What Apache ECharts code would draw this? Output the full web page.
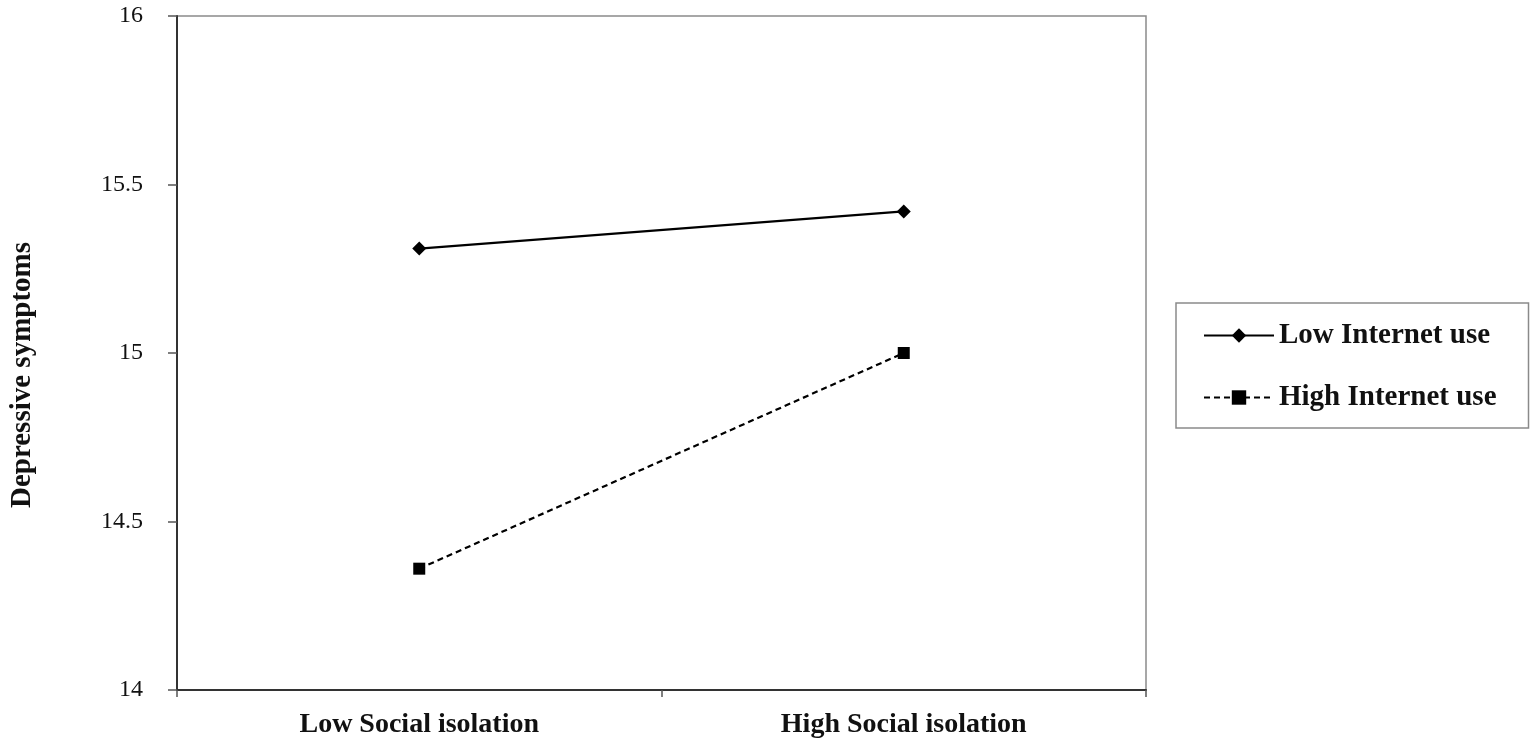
<!DOCTYPE html>
<html>
<head>
<meta charset="utf-8">
<script src="https://cdn.jsdelivr.net/npm/echarts@6/dist/echarts.min.js"></script>
<style>
html,body{margin:0;padding:0;background:#fff;}
#chart{width:1535px;height:749px;}
</style>
</head>
<body>
<div id="chart"></div>
<script>
const categories = ['Low Social isolation', 'High Social isolation'];
const lowInternetUse = [15.31, 15.42];
const highInternetUse = [14.36, 15.0];
const seriesNames = ['Low Internet use', 'High Internet use'];
const yName = 'Depressive symptoms';

const FONT = '"Liberation Serif", "Times New Roman", serif';
const chart = echarts.init(document.getElementById('chart'));
chart.setOption({
  backgroundColor: '#fff',
  animation: false,
  grid: {
    left: 177, right: 389, top: 16, bottom: 59,
    outerBoundsMode: 'none',
    containLabel: false,
    show: true, borderColor: '#8a8a8a', borderWidth: 1.5, backgroundColor: 'transparent'
  },
  legend: {
    orient: 'vertical',
    left: 1176, top: 303,
    padding: [18, 32, 16, 27],
    borderColor: '#8a8a8a', borderWidth: 1.5,
    itemWidth: 70, itemHeight: 18,
    itemGap: 33,
    textStyle: { fontFamily: FONT, fontWeight: 'bold', fontSize: 29, color: '#111' },
    data: seriesNames
  },
  xAxis: {
    type: 'category',
    data: categories,
    boundaryGap: true,
    axisLine: { lineStyle: { color: '#333', width: 2 } },
    axisTick: { show: true, length: 7, lineStyle: { color: '#555', width: 1.5 } },
    axisLabel: { margin: 21, fontFamily: FONT, fontWeight: 'bold', fontSize: 28, color: '#111' },
    splitLine: { show: false }
  },
  yAxis: {
    type: 'value',
    min: 14, max: 16, interval: 0.5,
    name: yName,
    nameLocation: 'middle',
    nameGap: 140,
    nameTextStyle: { fontFamily: FONT, fontWeight: 'bold', fontSize: 29, color: '#111', padding: [0, 44, 0, 0] },
    axisLine: { show: true, lineStyle: { color: '#333', width: 2 } },
    axisTick: { show: true, length: 9, lineStyle: { color: '#555', width: 1.5 } },
    axisLabel: { margin: 34, fontFamily: FONT, fontSize: 24, color: '#111' },
    splitLine: { show: false }
  },
  series: [
    {
      name: seriesNames[0], type: 'line', data: lowInternetUse,
      symbol: 'diamond', symbolSize: 14,
      lineStyle: { color: '#000', width: 2.2, type: 'solid' },
      itemStyle: { color: '#000' }
    },
    {
      name: seriesNames[1], type: 'line', data: highInternetUse,
      symbol: 'rect', symbolSize: 12,
      lineStyle: { color: '#000', width: 2.2, type: [6, 4] },
      itemStyle: { color: '#000' }
    }
  ]
});
</script>
</body>
</html>
